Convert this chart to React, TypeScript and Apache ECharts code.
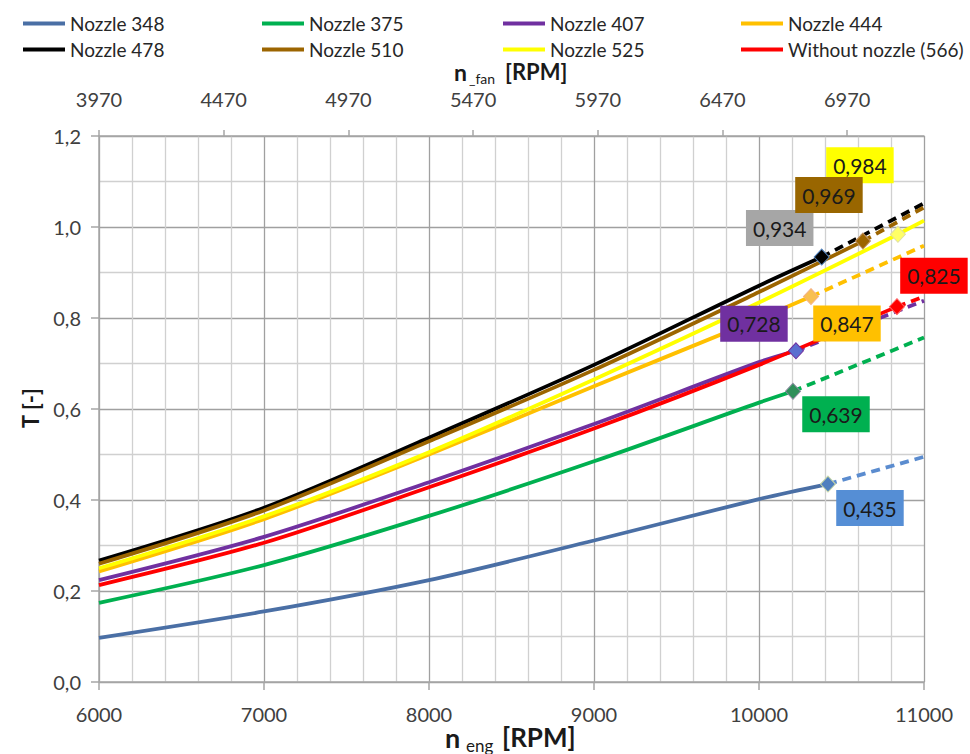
import React, { useEffect, useRef } from "react";
import * as echarts from "echarts";

const seriesNames = [
  "Nozzle 348",
  "Nozzle 375",
  "Nozzle 407",
  "Nozzle 444",
  "Nozzle 478",
  "Nozzle 510",
  "Nozzle 525",
  "Without nozzle (566)",
];

// engine speed sample points (solid part of each curve)
const engRpm = [6000, 7000, 8000, 9000, 10000];
const t348 = [0.097, 0.155, 0.224, 0.311, 0.402];
const t375 = [0.174, 0.257, 0.365, 0.485, 0.614];
const t407 = [0.224, 0.319, 0.439, 0.567, 0.703];
const t444 = [0.243, 0.358, 0.5, 0.65, 0.798];
const t478 = [0.267, 0.383, 0.537, 0.697, 0.871];
const t510 = [0.26, 0.377, 0.529, 0.686, 0.857];
const t525 = [0.25, 0.364, 0.505, 0.665, 0.834];
const t566 = [0.213, 0.306, 0.428, 0.557, 0.697];

// limit (marked) points
const limitRpm = [10418, 10206, 10224, 10315, 10380, 10630, 10842, 10836];
const limitT = [0.435, 0.639, 0.728, 0.847, 0.934, 0.969, 0.984, 0.825];

// extrapolated end values (dashed part)
const endRpm = 11000;
const endT = [0.495, 0.757, 0.838, 0.959, 1.052, 1.043, 1.014, 0.847];

// axes
const engMin = 6000;
const engMax = 11000;
const engStep = 1000;
const fanMin = 3970;
const fanMax = 7278;
const fanStep = 500;
const tMin = 0;
const tMax = 1.2;
const tStep = 0.2;

const tables = [t348, t375, t407, t444, t478, t510, t525, t566];

// styles
const FONT = "Lato, 'Noto Sans', sans-serif";
const lineColors = ["#4A6FA5", "#00B050", "#7030A0", "#FFC000", "#000000", "#9C6500", "#FFFF00", "#FF0000"];
const dashColors = ["#5B8CCF", "#00B050", "#7030A0", "#FFC000", "#000000", "#9C6500", "#FFFF00", "#FF0000"];
const dashTypes: any[] = [[9, 6], [9, 6], [9, 6], [9, 6], [9, 6], [9, 6], "solid", [9, 6]];
const markerFill = ["#4F7FBF", "#2F8F5A", "#5A6FD0", "#F8C050", "#000000", "#9C6500", "#FFFF66", "#FF0000"];
const markerBorder = ["#C8D8A8", "#8A8AA0", "#7030A0", "#F4B183", "#4F81BD", "#C09060", "#E0E0A0", "#FF6060"];
const labelBg = ["#558ED5", "#00B050", "#7030A0", "#FFC000", "#A6A6A6", "#996600", "#FFFF00", "#FF0000"];
const labelOffsets = [
  [42, 24],
  [43, 23],
  [-42, -27],
  [36, 27],
  [-42, -29],
  [-34, -46],
  [-38, -69],
  [37, -31],
];
const legendLefts = [18, 257, 498, 736];

function buildOption() {
  const series: any[] = [];
  tables.forEach((t, i) => {
    series.push({
      name: seriesNames[i],
      type: "line",
      xAxisIndex: 0,
      yAxisIndex: 0,
      data: [...engRpm.map((n, j) => [n, t[j]]), [limitRpm[i], limitT[i]]],
      smooth: 0.3,
      symbol: "none",
      lineStyle: { color: lineColors[i], width: 3.8 },
      itemStyle: { color: lineColors[i] },
      emphasis: { disabled: true },
      z: 2,
    });
    series.push({
      name: seriesNames[i],
      type: "line",
      xAxisIndex: 0,
      yAxisIndex: 0,
      data: [
        [limitRpm[i], limitT[i]],
        [endRpm, endT[i]],
      ],
      symbol: "none",
      lineStyle: { color: dashColors[i], width: 3.8, type: dashTypes[i] },
      itemStyle: { color: lineColors[i] },
      emphasis: { disabled: true },
      z: 2,
    });
  });
  tables.forEach((_, i) => {
    series.push({
      name: "limit " + i,
      type: "scatter",
      xAxisIndex: 0,
      yAxisIndex: 0,
      data: [[limitRpm[i], limitT[i]]],
      symbol: "diamond",
      symbolSize: [15, 16],
      itemStyle: { color: markerFill[i], borderColor: markerBorder[i], borderWidth: 1, opacity: 1 },
      label: {
        show: true,
        position: "inside",
        offset: labelOffsets[i],
        formatter: (p: any) => p.value[1].toFixed(3).replace(".", ","),
        backgroundColor: labelBg[i],
        padding: [6, 7],
        fontSize: 21,
        lineHeight: 24,
        color: "#1a1a1a",
        opacity: 1,
        fontFamily: FONT,
      },
      emphasis: { disabled: true },
      z: i === 5 ? 7 : 5,
    });
  });

  const axisGray = "#A6A6A6";
  return {
    animation: false,
    backgroundColor: "#ffffff",
    grid: { left: 99, right: 46, top: 136, bottom: 72, containLabel: false },
    legend: legendLefts.map((left, c) => ({
      orient: "vertical",
      left,
      top: 9,
      itemGap: 7,
      itemWidth: 42,
      itemHeight: 4,
      icon: "rect",
      selectedMode: false,
      data: [seriesNames[c], seriesNames[c + 4]],
      textStyle: { fontSize: 19, lineHeight: 19, color: "#262626", fontFamily: FONT },
    })),
    xAxis: [
      {
        type: "value",
        position: "bottom",
        min: engMin,
        max: engMax,
        interval: engStep,
        axisLine: { show: true, lineStyle: { color: axisGray, width: 1.5 } },
        axisTick: { show: true, length: 8, lineStyle: { color: axisGray, width: 1.5 } },
        axisLabel: { fontSize: 20, color: "#404040", margin: 22, fontFamily: FONT, formatter: (v: number) => String(v) },
        splitLine: { show: true, lineStyle: { color: "#A0A0A0", width: 1.3 } },
        minorTick: { show: false, splitNumber: 5 },
        minorSplitLine: { show: true, lineStyle: { color: "#D0D0D0", width: 1.3 } },
      },
      {
        type: "value",
        position: "top",
        min: fanMin,
        max: fanMax,
        interval: fanStep,
        axisLine: { show: true, lineStyle: { color: axisGray, width: 1.5 } },
        axisTick: { show: true, length: 6, lineStyle: { color: axisGray, width: 1.5 } },
        axisLabel: {
          fontSize: 20,
          color: "#404040",
          margin: 27,
          fontFamily: FONT,
          showMaxLabel: false,
          formatter: (v: number) => String(Math.round(v)),
        },
        splitLine: { show: false },
      },
    ],
    yAxis: {
      type: "value",
      min: tMin,
      max: tMax,
      interval: tStep,
      axisLine: { show: true, lineStyle: { color: axisGray, width: 1.5 } },
      axisTick: { show: true, length: 8, lineStyle: { color: axisGray, width: 1.5 } },
      axisLabel: {
        fontSize: 20,
        color: "#404040",
        margin: 18,
        fontFamily: FONT,
        formatter: (v: number) => v.toFixed(1).replace(".", ","),
      },
      splitLine: { show: true, lineStyle: { color: "#A0A0A0", width: 1.3 } },
      minorTick: { show: false, splitNumber: 2 },
      minorSplitLine: { show: true, lineStyle: { color: "#D0D0D0", width: 1.3 } },
    },
    graphic: [
      {
        type: "text",
        x: 30,
        y: 408,
        rotation: Math.PI / 2,
        style: { text: "T [-]", fontSize: 22, fontWeight: "bold", fontFamily: FONT, fill: "#1a1a1a", align: "center", verticalAlign: "middle" },
      },
      {
        type: "text",
        x: 454,
        y: 72,
        style: { text: "n", fontSize: 23, fontWeight: "bold", fontFamily: FONT, fill: "#1a1a1a", align: "left", verticalAlign: "middle" },
      },
      {
        type: "text",
        x: 469,
        y: 78,
        style: { text: "_fan", fontSize: 14, fontFamily: FONT, fill: "#1a1a1a", align: "left", verticalAlign: "middle" },
      },
      {
        type: "text",
        x: 505,
        y: 71,
        style: { text: "[RPM]", fontSize: 22, fontWeight: "bold", fontFamily: FONT, fill: "#1a1a1a", align: "left", verticalAlign: "middle" },
      },
      {
        type: "text",
        x: 445,
        y: 737,
        style: { text: "n", fontSize: 27, fontWeight: "bold", fontFamily: FONT, fill: "#1a1a1a", align: "left", verticalAlign: "middle" },
      },
      {
        type: "text",
        x: 466,
        y: 745,
        style: { text: "eng", fontSize: 17, fontFamily: FONT, fill: "#1a1a1a", align: "left", verticalAlign: "middle" },
      },
      {
        type: "text",
        x: 502,
        y: 737,
        style: { text: "[RPM]", fontSize: 26, fontWeight: "bold", fontFamily: FONT, fill: "#1a1a1a", align: "left", verticalAlign: "middle" },
      },
    ],
    series,
  };
}

export default function App() {
  const ref = useRef<HTMLDivElement>(null);
  useEffect(() => {
    if (!ref.current) return;
    const chart = echarts.init(ref.current, null, { renderer: "svg" });
    chart.setOption(buildOption() as any);
    return () => chart.dispose();
  }, []);
  return (
    <div
      ref={ref}
      style={{ position: "absolute", left: 0, top: 0, width: 970, height: 754, background: "#ffffff" }}
    />
  );
}
